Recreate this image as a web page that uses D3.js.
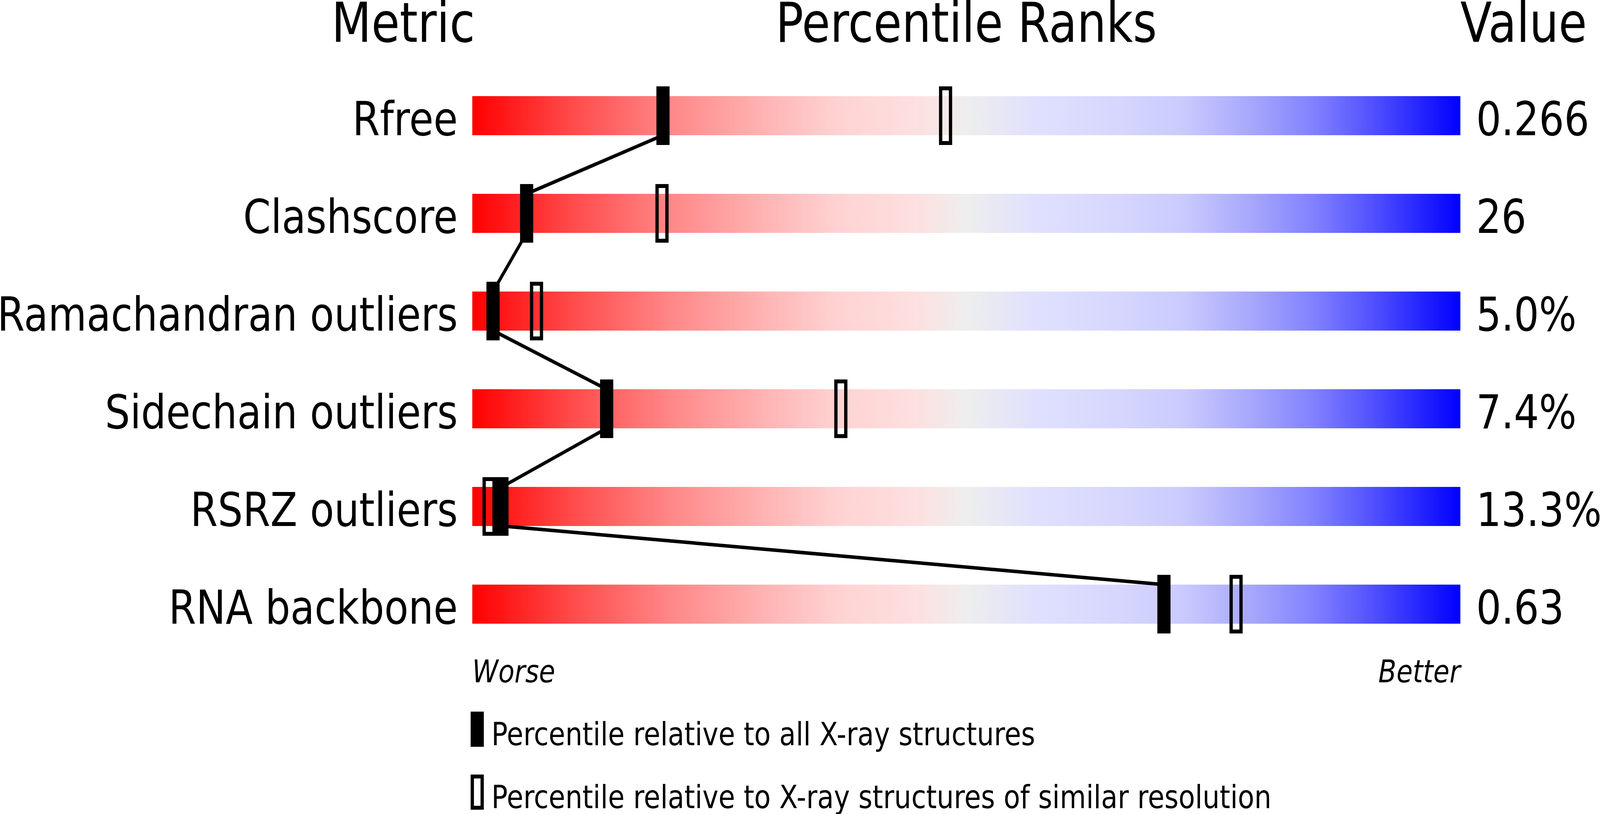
<!DOCTYPE html>
<html>
<head>
<meta charset="utf-8">
<script src="https://cdn.jsdelivr.net/npm/d3@7"></script>
<style>
  html, body { margin: 0; padding: 0; background: #fff; overflow: hidden; }
  svg { display: block; width: 100vw; height: 100vh; font-family: 'DejaVu Sans', sans-serif; }
</style>
</head>
<body>
<svg></svg>
<script>
const WIDTH = 4858
const HEIGHT = 2083

// values
const metrics = ['Rfree', 'Clashscore', 'Ramachandran outliers', 'Sidechain outliers', 'RSRZ outliers', 'RNA backbone']
const values = ['0.266', '26', '5.0%', '7.4%', '13.3%', '0.63']
const pctAll = [19.3, 5.5, 2.1, 13.6, 3.0, 70.0]
const pctRes = [47.9, 19.2, 6.5, 37.3, 1.7, 77.3]
const legendLabels = ['Percentile relative to all X-ray structures', 'Percentile relative to X-ray structures of similar resolution']
const gradientStops = [
  [0, '#ff0000'], [0.1, '#ff4a4a'], [0.2, '#ff8787'], [0.3, '#ffb5b5'],
  [0.37, '#ffd2d2'], [0.45, '#fde0e0'], [0.5, '#eeeeee'], [0.57, '#e0e0fe'],
  [0.65, '#d7d7fe'], [0.72, '#cacaff'], [0.79, '#a6a6fc'], [0.85, '#8282ff'],
  [0.91, '#5252ff'], [1, '#0000ff']
]

const svg = d3.select('svg')
  .attr('viewBox', `0 0 ${WIDTH} ${HEIGHT}`)
  .attr('preserveAspectRatio', 'none')

const x = d3.scaleLinear().domain([0, 100]).range([1434, 4434])
const y = d3.scaleBand().domain(metrics).range([246, 1596]).paddingInner(0.6)
const bh = y.bandwidth()

const grad = svg.append('defs').append('linearGradient')
  .attr('id', 'slider')
  .attr('x1', '0%').attr('x2', '100%')
grad.selectAll('stop')
  .data(gradientStops)
  .enter()
  .append('stop')
  .attr('offset', d => d[0])
  .attr('stop-color', d => d[1])

// headers
svg.append('text')
  .attr('x', x(0) + 8).attr('y', 107)
  .attr('text-anchor', 'end')
  .attr('font-size', 140)
  .text('Metric')
svg.append('text')
  .attr('x', x(50)).attr('y', 107)
  .attr('text-anchor', 'middle')
  .attr('font-size', 140)
  .text('Percentile Ranks')
svg.append('text')
  .attr('x', x(100)).attr('y', 107)
  .attr('font-size', 140)
  .text('Value')

// slider bars
svg.selectAll('rect.bar')
  .data(metrics)
  .enter()
  .append('rect')
  .attr('class', 'bar')
  .attr('x', x(0))
  .attr('y', d => y(d))
  .attr('width', x(100) - x(0))
  .attr('height', bh)
  .attr('fill', 'url(#slider)')

svg.selectAll('text.metric')
  .data(metrics)
  .enter()
  .append('text')
  .attr('class', 'metric')
  .attr('x', x(0) - 44)
  .attr('y', d => y(d) + bh)
  .attr('text-anchor', 'end')
  .attr('font-size', 120)
  .text(d => d)

svg.selectAll('text.value')
  .data(values)
  .enter()
  .append('text')
  .attr('class', 'value')
  .attr('x', x(100) + 48)
  .attr('y', (d, i) => y(metrics[i]) + bh)
  .attr('font-size', 120)
  .text(d => d)

// connecting line between "all structures" markers
const pairs = d3.pairs(metrics.map((m, i) => [m, pctAll[i]]))
svg.selectAll('line.link')
  .data(pairs)
  .enter()
  .append('line')
  .attr('class', 'link')
  .attr('x1', d => x(d[0][1]))
  .attr('y1', d => y(d[0][0]) + bh)
  .attr('x2', d => x(d[1][1]))
  .attr('y2', d => y(d[1][0]))
  .attr('stroke', '#000')
  .attr('stroke-width', 9)

// similar-resolution markers (open)
svg.selectAll('rect.res')
  .data(pctRes)
  .enter()
  .append('rect')
  .attr('class', 'res')
  .attr('x', d => x(d) - 15)
  .attr('y', (d, i) => y(metrics[i]) - 20)
  .attr('width', 30)
  .attr('height', bh + 40)
  .attr('fill', 'none')
  .attr('stroke', '#000')
  .attr('stroke-width', 10)

// all-structures markers (filled)
svg.selectAll('rect.all')
  .data(pctAll)
  .enter()
  .append('rect')
  .attr('class', 'all')
  .attr('x', d => x(d) - 20)
  .attr('y', (d, i) => y(metrics[i]) - 25)
  .attr('width', 40)
  .attr('height', bh + 50)
  .attr('fill', '#000')

// worse / better
svg.append('text')
  .attr('x', x(0)).attr('y', 1746)
  .attr('font-size', 80)
  .attr('font-style', 'italic')
  .text('Worse')
svg.append('text')
  .attr('x', x(100)).attr('y', 1746)
  .attr('text-anchor', 'end')
  .attr('font-size', 80)
  .attr('font-style', 'italic')
  .text('Better')

// legend
const legend = svg.selectAll('g.legend')
  .data(legendLabels)
  .enter()
  .append('g')
  .attr('class', 'legend')
  .attr('transform', (d, i) => `translate(1429, ${1821 + i * 161})`)

legend.filter((d, i) => i === 0).append('rect')
  .attr('width', 40).attr('height', 90)
  .attr('fill', '#000')
legend.filter((d, i) => i === 1).append('rect')
  .attr('x', 5).attr('y', 5)
  .attr('width', 30).attr('height', 80)
  .attr('fill', 'none')
  .attr('stroke', '#000')
  .attr('stroke-width', 10)

legend.append('text')
  .attr('x', 63).attr('y', 86)
  .attr('font-size', 82)
  .text(d => d)
</script>
</body>
</html>
